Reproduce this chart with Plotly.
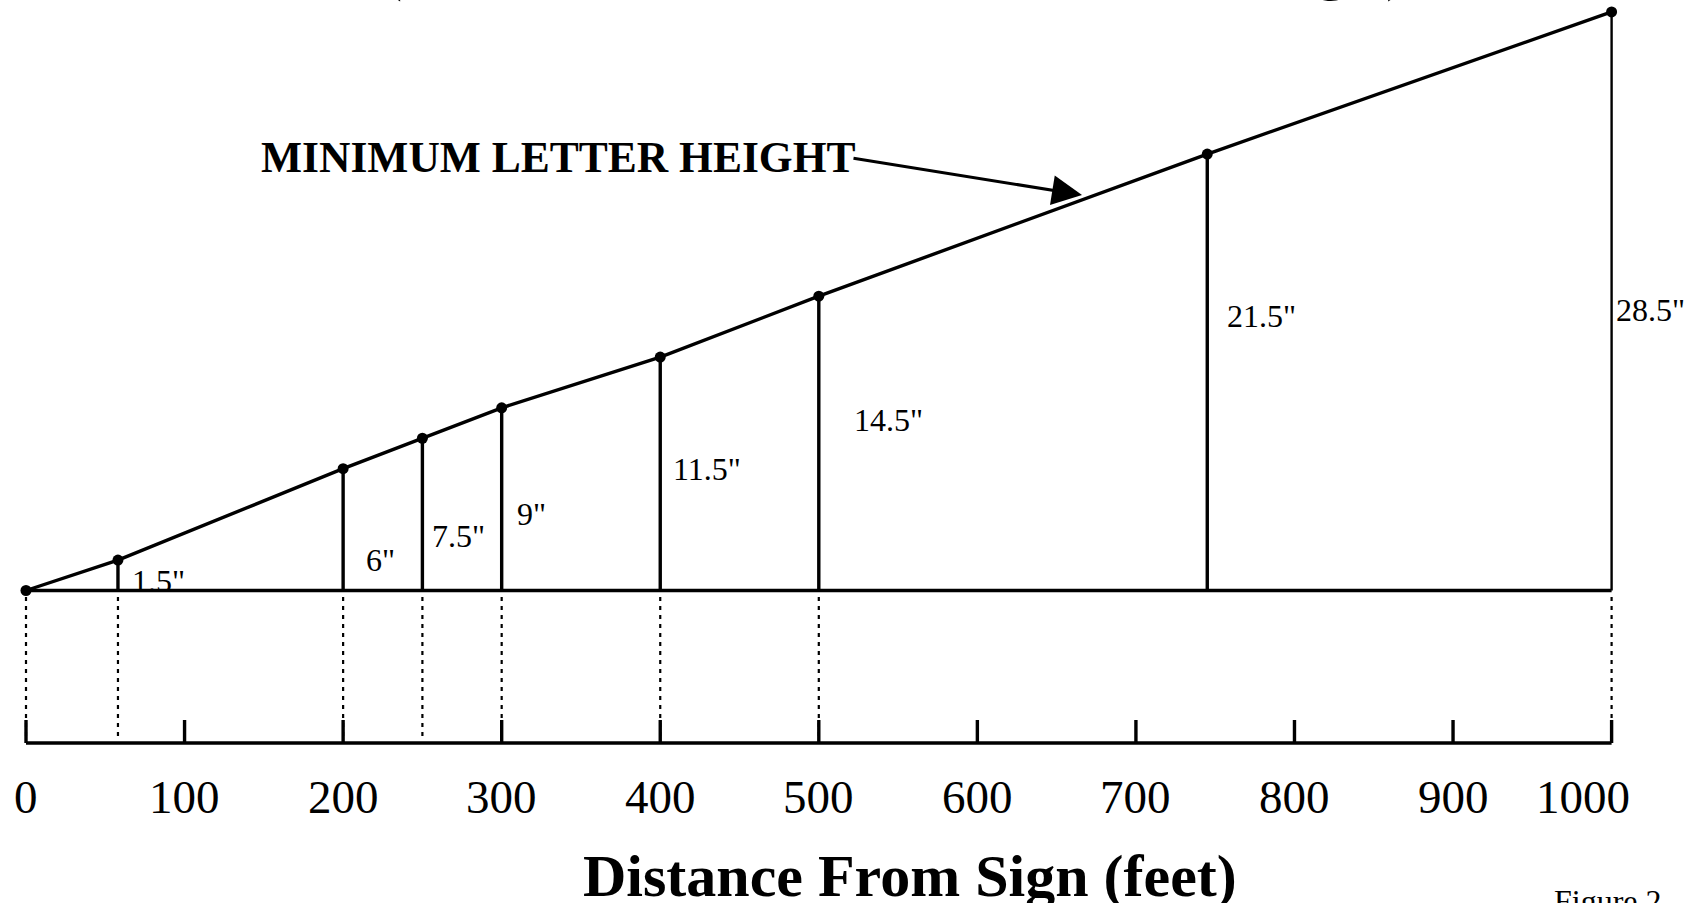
import plotly.graph_objects as go

# ---------------- data ----------------
distance_ft = [0, 58, 200, 250, 300, 400, 500, 745, 1000]
letter_height_in = [0, 1.5, 6, 7.5, 9, 11.5, 14.5, 21.5, 28.5]
height_labels = ["", '1.5"', '6"', '7.5"', '9"', '11.5"', '14.5"', '21.5"', '28.5"']
dotted_at_ft = [0, 58, 200, 250, 300, 400, 500, 1000]
tick_values = [0, 100, 200, 300, 400, 500, 600, 700, 800, 900, 1000]
tick_labels = ["0", "100", "200", "300", "400", "500", "600", "700", "800", "900", "1000"]

# ---------------- layout geometry (pixels) ----------------
W, H = 1696, 903
X0_PX = 26.0          # pixel of 0 ft
PX_PER_FT = 1.5856
BASE_PX = 590.5       # pixel row of the 0-inch baseline
PX_PER_IN = 20.3


def in_y(py):
    return (BASE_PX - py) / PX_PER_IN


def ft_x(px):
    return (px - X0_PX) / PX_PER_FT


x_range = [ft_x(0), ft_x(W)]
y_range = [in_y(H), in_y(0)]

axis_y = in_y(743)
tick_top = in_y(720)
dot_top = in_y(597)
dot_bot = in_y(740)

# label offsets (pixels) for the height labels
label_dx = [0, 12, 21, 8, 13, 11, 33, 18, 2]
label_dy = [0, 10, 31, 55, 77, 122, 171, 275, 281]
tick_label_shift = {1000: -29}

SERIF = "Liberation Serif, Times New Roman, serif"
BLACK = "#000000"
LW = 3.4

fig = go.Figure()

# dotted drop lines
dx, dy = [], []
for d in dotted_at_ft:
    dx += [d, d, None]
    dy += [dot_top, dot_bot, None]
fig.add_trace(go.Scatter(x=dx, y=dy, mode="lines",
                         line=dict(color=BLACK, width=2.2, dash="4px,5px"),
                         hoverinfo="skip", showlegend=False))

# baseline
fig.add_trace(go.Scatter(x=[distance_ft[0], distance_ft[-1]], y=[0, 0], mode="lines",
                         line=dict(color=BLACK, width=LW), hoverinfo="skip", showlegend=False))

# vertical height lines
vx, vy = [], []
for d, h in zip(distance_ft[1:-1], letter_height_in[1:-1]):
    vx += [d, d, None]
    vy += [0, h, None]
fig.add_trace(go.Scatter(x=vx, y=vy, mode="lines",
                         line=dict(color=BLACK, width=LW), hoverinfo="skip", showlegend=False))
fig.add_trace(go.Scatter(x=[distance_ft[-1], distance_ft[-1]], y=[0, letter_height_in[-1]],
                         mode="lines", line=dict(color=BLACK, width=2.4),
                         hoverinfo="skip", showlegend=False))

# minimum letter height line with dots
fig.add_trace(go.Scatter(x=distance_ft, y=letter_height_in, mode="lines+markers",
                         line=dict(color=BLACK, width=LW),
                         marker=dict(color=BLACK, size=11),
                         hoverinfo="skip", showlegend=False))

# bottom distance axis
fig.add_trace(go.Scatter(x=[tick_values[0], tick_values[-1]], y=[axis_y, axis_y], mode="lines",
                         line=dict(color=BLACK, width=LW), hoverinfo="skip", showlegend=False))
tx, ty = [], []
for t in tick_values:
    tx += [t, t, None]
    ty += [axis_y, tick_top, None]
fig.add_trace(go.Scatter(x=tx, y=ty, mode="lines",
                         line=dict(color=BLACK, width=LW), hoverinfo="skip", showlegend=False))

annotations = []
# tick labels
for t, lab in zip(tick_values, tick_labels):
    annotations.append(dict(x=t, y=in_y(797), xref="x", yref="y", text=lab, showarrow=False,
                            xanchor="center", yanchor="middle",
                            xshift=tick_label_shift.get(t, 0),
                            font=dict(family=SERIF, size=47, color=BLACK)))

# height labels
for d, lab, ddx, ddy in zip(distance_ft, height_labels, label_dx, label_dy):
    if not lab:
        continue
    annotations.append(dict(x=d, y=0, xref="x", yref="y", text=lab, showarrow=False,
                            xanchor="left", yanchor="middle", xshift=ddx, yshift=ddy,
                            font=dict(family=SERIF, size=32, color=BLACK)))

# axis title
annotations.append(dict(x=910 / W, y=1 - 876 / H, xref="paper", yref="paper",
                        text="<b>Distance From Sign (feet)</b>", showarrow=False,
                        xanchor="center", yanchor="middle",
                        font=dict(family=SERIF, size=60, color=BLACK)))

# callout
annotations.append(dict(x=558 / W, y=1 - 157 / H, xref="paper", yref="paper",
                        text="<b>MINIMUM LETTER HEIGHT</b>", showarrow=False,
                        xanchor="center", yanchor="middle",
                        font=dict(family=SERIF, size=43.5, color=BLACK)))
annotations.append(dict(x=ft_x(1082), y=in_y(195), ax=ft_x(852), ay=in_y(158),
                        xref="x", yref="y", axref="x", ayref="y", text="",
                        showarrow=True, arrowhead=2, arrowsize=2, arrowwidth=3,
                        arrowcolor=BLACK, standoff=0, startstandoff=0))

# clipped title at top
annotations.append(dict(x=894 / W, y=1 + 35 / H, xref="paper", yref="paper",
                        text="<b>(Letter Size vs. Distance From Sign)</b>", showarrow=False,
                        xanchor="center", yanchor="middle",
                        font=dict(family=SERIF, size=67, color=BLACK)))

# figure number (clipped at bottom)
annotations.append(dict(x=1552 / W, y=1 - 901 / H, xref="paper", yref="paper",
                        text="Figure 2", showarrow=False,
                        xanchor="left", yanchor="middle",
                        font=dict(family=SERIF, size=32, color=BLACK)))

fig.update_layout(
    width=W, height=H,
    margin=dict(l=0, r=0, t=0, b=0, pad=0),
    paper_bgcolor="white", plot_bgcolor="white",
    xaxis=dict(range=x_range, visible=False, fixedrange=True),
    yaxis=dict(range=y_range, visible=False, fixedrange=True),
    annotations=annotations,
    showlegend=False,
)

fig.write_html("out.html", config={"displayModeBar": False},
               post_script="document.body.style.margin='0';document.body.style.overflow='hidden';")
